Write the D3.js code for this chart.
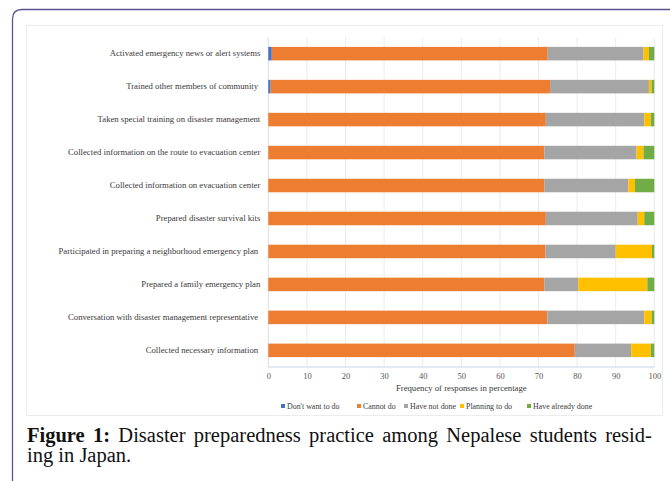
<!DOCTYPE html>
<html>
<head>
<meta charset="utf-8">
<script src="https://cdn.jsdelivr.net/npm/d3@7"></script>
<style>
  body { margin: 0; background: #fff; }
  svg { display: block; }
</style>
</head>
<body>
<script>
// data (percent of responses)
var categories = [
    'Activated emergency news or alert systems',
    'Trained other members of community ',
    'Taken special training on disaster management',
    'Collected information on the route to evacuation center',
    'Collected information on evacuation center',
    'Prepared disaster survival kits',
    'Participated in preparing a neighborhood emergency plan ',
    'Prepared a family emergency plan',
    'Conversation with disaster management representative ',
    'Collected necessary information '
];
var seriesNames = ["Don't want to do", 'Cannot do', 'Have not done', 'Planning to do', 'Have already done'];
var dontWant = [0.9, 0.6, 0, 0, 0, 0, 0, 0, 0, 0];
var cannotDo = [71.5, 72.4, 71.9, 71.5, 71.5, 71.9, 71.8, 71.5, 72.3, 79.4];
var notDone = [24.8, 25.6, 25.5, 23.9, 21.8, 23.8, 18.2, 8.8, 25.1, 14.6];
var planning = [1.4, 0.7, 1.7, 1.8, 1.7, 1.7, 9.4, 17.9, 1.9, 5.1];
var alreadyDone = [1.4, 0.7, 0.9, 2.8, 5.0, 2.6, 0.6, 1.8, 0.7, 0.9];
var xTicks = [0, 10, 20, 30, 40, 50, 60, 70, 80, 90, 100];

var colors = ['#4472C4', '#ED7D31', '#A5A5A5', '#FFC000', '#70AD47'];

window.document.addEventListener('DOMContentLoaded', init, false);

var svg;

function init() {
    svg = d3.select('body').append('svg')
        .attr('width', 670)
        .attr('height', 481);

    drawFrame();
    drawChart();
    drawLegend();
    drawCaption();
}

function drawFrame() {
    // page frame with rounded corner
    svg.append('path')
        .attr('d', 'M12.5,481 L12.5,19 Q12.5,9.5 22,9.5 L670,9.5')
        .attr('fill', 'none')
        .attr('stroke', '#5b5391')
        .attr('stroke-width', 1.3);

    // chart box
    svg.append('rect')
        .attr('x', 26.5)
        .attr('y', 25.5)
        .attr('width', 636)
        .attr('height', 390)
        .attr('fill', '#fff')
        .attr('stroke', '#ececec');
}

function drawChart() {
    var rows = categories.map(function (c, i) {
        return {
            name: c,
            "Don't want to do": dontWant[i],
            'Cannot do': cannotDo[i],
            'Have not done': notDone[i],
            'Planning to do': planning[i],
            'Have already done': alreadyDone[i]
        };
    });

    var x = d3.scaleLinear().domain([0, 100]).range([268.3, 654.3]);
    var y = d3.scaleBand().domain(categories).range([37, 367]).paddingInner(0.59).paddingOuter(0.3);

    var g = svg.append('g');

    // vertical gridlines
    g.selectAll('.grid')
        .data(xTicks)
        .enter().append('line')
        .attr('x1', function (d) { return x(d); })
        .attr('x2', function (d) { return x(d); })
        .attr('y1', 37)
        .attr('y2', 367)
        .attr('stroke', function (d) { return d === 0 ? '#d4d4d4' : '#e6e6e6'; })
        .attr('stroke-width', 0.8);

    var stack = d3.stack().keys(seriesNames)(rows);

    g.selectAll('.series')
        .data(stack)
        .enter().append('g')
        .attr('fill', function (d, i) { return colors[i]; })
        .selectAll('rect')
        .data(function (d) { return d; })
        .enter().append('rect')
        .attr('x', function (d) { return x(d[0]); })
        .attr('width', function (d) { return Math.max(0, x(d[1]) - x(d[0])); })
        .attr('y', function (d) { return y(d.data.name); })
        .attr('height', y.bandwidth());

    // bottom axis line
    g.append('line')
        .attr('x1', x(0))
        .attr('x2', x(100))
        .attr('y1', 367)
        .attr('y2', 367)
        .attr('stroke', '#c6d6ec')
        .attr('stroke-width', 1.2);

    // x tick labels
    var xAxis = d3.axisBottom(x).tickValues(xTicks).tickSize(0).tickPadding(6);
    var ax = g.append('g')
        .attr('transform', 'translate(0,367)')
        .call(xAxis);
    ax.select('.domain').remove();
    ax.selectAll('text')
        .attr('font-family', 'Liberation Serif, serif')
        .attr('font-size', 8.5)
        .attr('fill', '#555');

    // category labels
    var yAxis = d3.axisLeft(y).tickSize(0).tickPadding(8);
    var ay = g.append('g')
        .attr('transform', 'translate(' + x(0) + ',0)')
        .call(yAxis);
    ay.select('.domain').remove();
    ay.selectAll('text')
        .attr('font-family', 'Liberation Serif, serif')
        .attr('font-size', 8.7)
        .attr('fill', '#3a3a3a')
        .style('white-space', 'pre');

    // axis title
    svg.append('text')
        .attr('x', (x(0) + x(100)) / 2)
        .attr('y', 391)
        .attr('text-anchor', 'middle')
        .attr('font-family', 'Liberation Serif, serif')
        .attr('font-size', 8.7)
        .attr('fill', '#3a3a3a')
        .text('Frequency of responses in percentage');
}

function drawLegend() {
    var legendX = [281, 357, 404, 460, 527];
    var item = svg.append('g')
        .selectAll('g')
        .data(seriesNames)
        .enter().append('g')
        .attr('transform', function (d, i) { return 'translate(' + legendX[i] + ',406)'; });

    item.append('rect')
        .attr('x', 0)
        .attr('y', -2)
        .attr('width', 4)
        .attr('height', 4)
        .attr('fill', function (d, i) { return colors[i]; });

    item.append('text')
        .attr('x', 6)
        .attr('y', 2.8)
        .attr('font-family', 'Liberation Serif, serif')
        .attr('font-size', 7.9)
        .attr('fill', '#3a3a3a')
        .text(function (d) { return d; });
}

function drawCaption() {
    var line1 = svg.append('text')
        .attr('x', 27)
        .attr('y', 442)
        .attr('font-family', 'Liberation Serif, Times New Roman, serif')
        .attr('font-size', 20.5)
        .attr('fill', '#111');
    line1.append('tspan').attr('font-weight', 'bold').text('Figure 1:');
    line1.append('tspan').text(' Disaster preparedness practice among Nepalese students resid-');

    // justify the first line by widening the word gaps
    var natural = line1.node().getComputedTextLength();
    var gaps = 9;
    var extra = Math.max(0, (628 - natural) / gaps);
    line1.attr('word-spacing', extra);

    svg.append('text')
        .attr('x', 27)
        .attr('y', 462)
        .attr('font-family', 'Liberation Serif, Times New Roman, serif')
        .attr('font-size', 20.5)
        .attr('fill', '#111')
        .text('ing in Japan.');
}
</script>
</body>
</html>
